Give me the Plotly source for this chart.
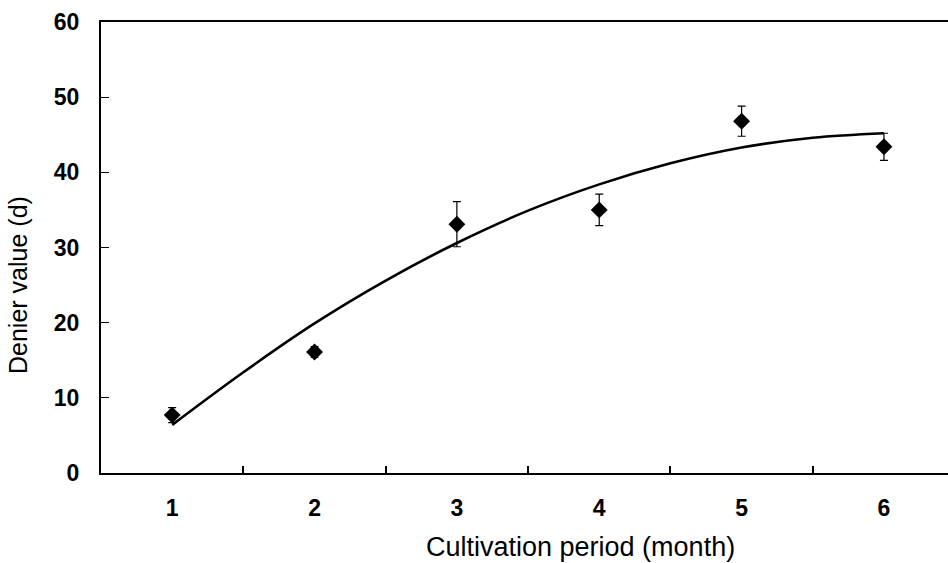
import plotly.graph_objects as go

# Cultivation period (months) and measured denier values
months = [1, 2, 3, 4, 5, 6]
denier = [7.7, 16.1, 33.1, 35.0, 46.8, 43.4]
denier_err = [1.0, 0.7, 3.0, 2.1, 2.0, 1.8]

# Fitted trend curve
trend_x = [1, 1.5, 2, 2.5, 3, 3.5, 4, 4.5, 5, 5.5, 6]
trend_y = [6.4, 13.4, 19.9, 25.6, 30.6, 34.9, 38.4, 41.2, 43.3, 44.6, 45.2]

y_ticks = [0, 10, 20, 30, 40, 50, 60]
x_ticks = [1, 2, 3, 4, 5, 6]
x_minor = [1.5, 2.5, 3.5, 4.5, 5.5]

font_family = "Liberation Sans, Arial, sans-serif"

fig = go.Figure()

fig.add_trace(go.Scatter(
    x=trend_x, y=trend_y, mode="lines",
    line=dict(color="black", width=2.6, shape="spline"),
    hoverinfo="skip", showlegend=False,
))

fig.add_trace(go.Scatter(
    x=months, y=denier, mode="markers",
    marker=dict(symbol="diamond", size=13, color="black"),
    error_y=dict(type="data", array=denier_err, visible=True,
                 color="black", thickness=1.2, width=4),
    showlegend=False,
))

# invisible trace to carry the between-category tick marks
fig.add_trace(go.Scatter(x=[x_minor[0]], y=[0], xaxis="x2", mode="markers",
                         marker=dict(opacity=0), hoverinfo="skip", showlegend=False))

fig.update_layout(
    width=948, height=563,
    margin=dict(l=101, r=0, t=22, b=90),
    paper_bgcolor="white", plot_bgcolor="white",
    font=dict(family=font_family, color="black"),
    xaxis=dict(
        range=[0.5, 6.45], tickvals=x_ticks, ticktext=[str(v) for v in x_ticks],
        ticks="", showgrid=False, zeroline=False,
        showline=True, linecolor="black", linewidth=2, mirror=True,
        tickfont=dict(size=23, family=font_family, weight="bold"),
        ticklabelstandoff=13,
    ),
    xaxis2=dict(
        range=[0.5, 6.45], overlaying="x", side="bottom",
        tickvals=x_minor, showticklabels=False,
        ticks="inside", ticklen=7, tickwidth=1.5, tickcolor="black",
        showgrid=False, zeroline=False, showline=False,
    ),
    yaxis=dict(
        range=[0, 60], tickvals=y_ticks,
        ticks="inside", ticklen=8, tickwidth=1.2, tickcolor="black",
        showgrid=False, zeroline=False,
        showline=True, linecolor="black", linewidth=2,
        tickfont=dict(size=23, family=font_family, weight="bold"),
        ticklabelstandoff=15,
    ),
    annotations=[
        dict(text="Cultivation period (month)", xref="paper", yref="paper",
             x=(580 - 101) / 847, y=-(547 - 473) / 451, xanchor="center", yanchor="middle",
             showarrow=False, font=dict(size=27, family=font_family)),
        dict(text="Denier value (d)", xref="paper", yref="paper",
             x=-(101 - 18) / 847, y=(473 - 285) / 451, xanchor="center", yanchor="middle",
             textangle=-90, showarrow=False, font=dict(size=25, family=font_family)),
    ],
)

fig.write_html("out.html")
